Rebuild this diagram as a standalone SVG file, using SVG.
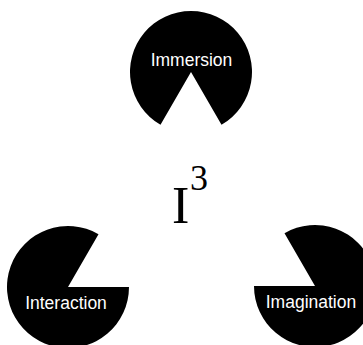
<svg xmlns="http://www.w3.org/2000/svg" width="363" height="345" viewBox="0 0 363 345">
  <style>
    .pac { fill: #000; }
    .lbl { fill: #fff; font-family: "Liberation Sans", Arial, sans-serif; font-size: 17.5px; text-anchor: middle; }
    .title { fill: #000; font-family: "Liberation Serif", "Times New Roman", serif; }
  </style>
  <rect width="363" height="345" fill="#fff"/>

  <!-- Immersion: disc with a 60 degree notch opening downward -->
  <g id="immersion">
    <path class="pac" d="M191,72 L221.5,124.8 A61,61 0 1 0 160.5,124.8 Z"/>
    <text class="lbl" x="191.5" y="66">Immersion</text>
  </g>

  <!-- Interaction: notch opening up-right -->
  <g id="interaction">
    <path class="pac" d="M68,287 L129,287 A61,61 0 1 1 98.5,234.2 Z"/>
    <text class="lbl" x="66" y="309">Interaction</text>
  </g>

  <!-- Imagination: notch opening up-left -->
  <g id="imagination">
    <path class="pac" d="M315,286 L284.5,233.2 A61,61 0 1 1 254,286 Z"/>
    <text class="lbl" x="311" y="308">Imagination</text>
  </g>

  <!-- centre title -->
  <g id="title">
    <text class="title" x="172" y="223" font-size="52">I</text>
    <text class="title" x="190" y="190" font-size="36">3</text>
  </g>
</svg>
